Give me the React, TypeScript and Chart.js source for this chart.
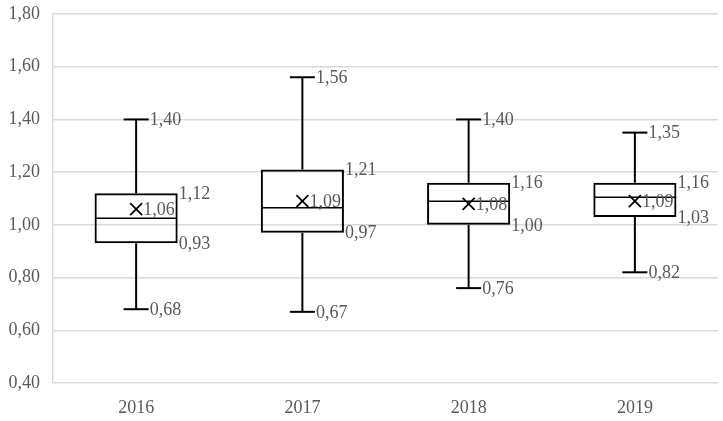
import React, { useEffect, useRef } from "react";
import { Chart, registerables } from "chart.js";

Chart.register(...registerables);

const categories = ["2016", "2017", "2018", "2019"];
const minValues = [0.68, 0.67, 0.76, 0.82];
const q1Values = [0.93, 0.97, 1.0, 1.03];
const medianValues = [1.025, 1.065, 1.09, 1.105];
const q3Values = [1.12, 1.21, 1.16, 1.16];
const maxValues = [1.4, 1.56, 1.4, 1.35];
const meanValues = [1.06, 1.09, 1.08, 1.09];
const yTicks = [0.4, 0.6, 0.8, 1.0, 1.2, 1.4, 1.6, 1.8];

const FONT = "'Liberation Serif', 'Times New Roman', serif";
const TEXT = "#595959";
const fmt = (v: number) => v.toFixed(2).replace(".", ",");

const boxPlugin = {
  id: "boxExtras",
  afterDatasetsDraw(chart: any) {
    const { ctx } = chart;
    const y = chart.scales.y;
    const meta = chart.getDatasetMeta(0);
    ctx.save();
    ctx.font = `18px ${FONT}`;
    ctx.textBaseline = "middle";
    ctx.textAlign = "left";
    const line = (x1: number, y1: number, x2: number, y2: number, w: number) => {
      ctx.beginPath();
      ctx.lineWidth = w;
      ctx.strokeStyle = "#000";
      ctx.moveTo(x1, y1);
      ctx.lineTo(x2, y2);
      ctx.stroke();
    };
    categories.forEach((_, i) => {
      const bar = meta.data[i];
      const cx = bar.x;
      const half = bar.width / 2;
      const left = cx - half;
      const right = cx + half;
      const yMin = y.getPixelForValue(minValues[i]);
      const yQ1 = y.getPixelForValue(q1Values[i]);
      const yMed = y.getPixelForValue(medianValues[i]);
      const yQ3 = y.getPixelForValue(q3Values[i]);
      const yMax = y.getPixelForValue(maxValues[i]);
      const yMean = y.getPixelForValue(meanValues[i]);
      const cap = 12.5;
      line(cx, yMax, cx, yQ3, 2);
      line(cx, yQ1, cx, yMin, 2);
      line(cx - cap, yMax, cx + cap, yMax, 2);
      line(cx - cap, yMin, cx + cap, yMin, 2);
      line(left + 1, yMed, right - 1, yMed, 1.5);
      const s = 6;
      line(cx - s, yMean - s, cx + s, yMean + s, 1.8);
      line(cx - s, yMean + s, cx + s, yMean - s, 1.8);
      ctx.fillStyle = TEXT;
      ctx.fillText(fmt(maxValues[i]), cx + cap + 1, yMax + 1);
      ctx.fillText(fmt(minValues[i]), cx + cap + 1, yMin + 1);
      ctx.fillText(fmt(q3Values[i]), right + 1, yQ3 + 1);
      ctx.fillText(fmt(q1Values[i]), right + 1, yQ1 + 1);
      ctx.fillText(fmt(meanValues[i]), cx + s + 1, yMean + 1);
    });
    ctx.restore();
  },
};

export default function App() {
  const ref = useRef<HTMLCanvasElement | null>(null);
  useEffect(() => {
    if (!ref.current) return;
    const chart = new Chart(ref.current, {
      type: "bar",
      data: {
        labels: categories,
        datasets: [
          {
            data: categories.map((_, i) => [q1Values[i], q3Values[i]]) as any,
            backgroundColor: "rgba(255,255,255,0)",
            borderColor: "#000",
            borderWidth: 2,
            borderSkipped: false,
            barPercentage: 0.5,
            categoryPercentage: 1,
          },
        ],
      },
      options: {
        animation: false,
        responsive: false,
        maintainAspectRatio: false,
        layout: { padding: { top: 14, right: 5, left: 0, bottom: 0 } },
        plugins: { legend: { display: false }, tooltip: { enabled: false } },
        scales: {
          x: {
            grid: { display: false, drawTicks: false },
            border: { display: false },
            ticks: { color: TEXT, font: { family: FONT, size: 18 }, padding: 14 },
            afterFit: (axis: any) => {
              axis.height = 38;
              axis.paddingLeft = 0;
              axis.paddingRight = 0;
            },
          },
          y: {
            min: 0.4,
            max: 1.8,
            afterBuildTicks: (axis: any) => {
              axis.ticks = yTicks.map((v) => ({ value: v }));
            },
            afterFit: (axis: any) => {
              axis.width = 53;
              axis.paddingTop = 0;
              axis.paddingBottom = 0;
            },
            grid: { color: "#d9d9d9", lineWidth: 1.5, drawTicks: false },
            border: { display: true, color: "#d9d9d9", width: 1.5 },
            ticks: {
              color: TEXT,
              font: { family: FONT, size: 18 },
              padding: 13,
              callback: (v: any) => fmt(Number(v)),
            },
          },
        },
      },
      plugins: [boxPlugin],
    });
    return () => chart.destroy();
  }, []);
  return (
    <div style={{ position: "fixed", left: 0, top: 0, width: 723, height: 421, background: "#fff" }}>
      <canvas ref={ref} width={723} height={421} style={{ display: "block" }} />
    </div>
  );
}
